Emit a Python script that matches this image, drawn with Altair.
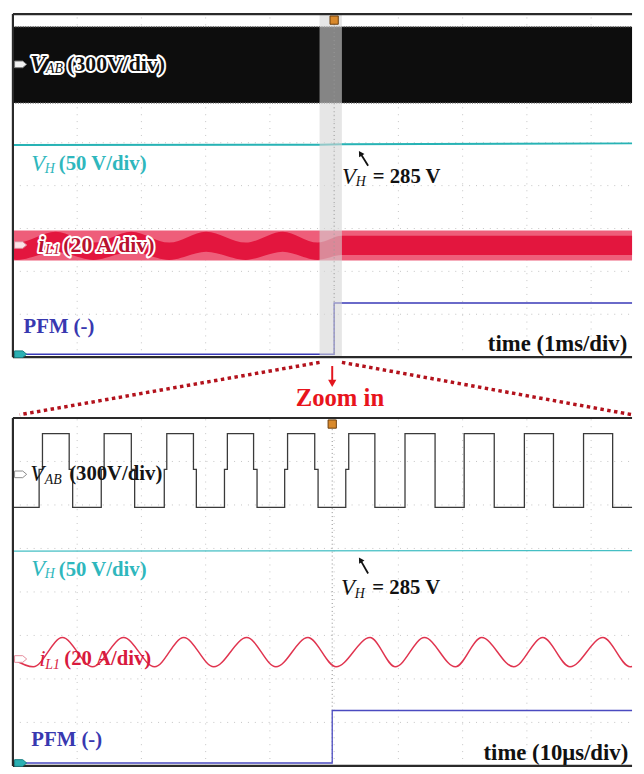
import altair as alt
import pandas as pd

# ================= DATA (oscilloscope divisions: 10 across, 8 high) =================
# ---- top screen (time 1 ms/div) ----
top_vab_band_t = [0.0, 9.637]
top_vab_band_lo = [5.927, 5.927]
top_vab_band_hi = [7.707, 7.707]

top_vh_t = [0.0, 4.77, 5.12, 9.637]
top_vh_v = [4.945, 4.955, 4.965, 4.985]

top_il_outer_t = [0.0, 9.637]
top_il_outer_lo = [2.254, 2.254]
top_il_outer_hi = [2.952, 2.952]

top_il_core_t = [0.0, 0.060, 0.665, 1.254, 1.843, 2.432, 3.006, 3.625, 4.199, 4.743, 5.12, 9.637]
top_il_core_hi = [2.69, 2.672, 2.925, 2.672, 2.925, 2.672, 2.925, 2.672, 2.925, 2.672, 2.830, 2.830]
top_il_core_lo = [2.285, 2.268, 2.460, 2.268, 2.460, 2.268, 2.460, 2.268, 2.460, 2.268, 2.380, 2.380]

top_pfm_t = [0.0, 5.0, 5.0, 9.637]
top_pfm_v = [0.068, 0.068, 1.262, 1.262]

zoom_window = [4.773, 5.121]
top_trigger = 5.0

# ---- bottom screen (time 10 us/div) ----
bot_vab_low, bot_vab_mid, bot_vab_high = 5.944, 6.816, 7.642
bot_vab_rise_a = [0.408, 1.375, 2.356, 3.293, 4.230, 5.181, 6.103, 7.024, 7.961, 8.882]
bot_vab_rise_b = [0.460, 1.420, 2.395, 3.338, 4.275, 5.227, 6.103, 7.024, 7.961, 8.882]
bot_vab_fall_a = [0.876, 1.843, 2.810, 3.746, 4.698, 5.634, 6.571, 7.492, 8.414, 9.335]
bot_vab_fall_b = [0.930, 1.895, 2.855, 3.800, 4.750, 5.634, 6.571, 7.492, 8.414, 9.335]

bot_vh_t = [0.0, 9.637]
bot_vh_v = [4.94, 4.95]

bot_il_t = [0.0, 0.317, 0.770, 1.239, 1.722, 2.205, 2.659, 3.127, 3.640, 4.094, 4.592,
            5.030, 5.559, 5.952, 6.405, 6.888, 7.296, 7.795, 8.248, 8.671, 9.184, 9.607, 9.637]
bot_il_v = [2.458, 2.279, 2.950, 2.279, 2.950, 2.279, 2.950, 2.279, 2.950, 2.279, 2.950,
            2.279, 2.950, 2.279, 2.950, 2.279, 2.950, 2.279, 2.950, 2.279, 2.950, 2.279, 2.285]

bot_pfm_t = [0.0, 4.97, 4.97, 9.637]
bot_pfm_v = [0.067, 0.067, 1.274, 1.274]
bot_trigger = 4.97

# ---- labels ----
top_lbl_text = ["V", "AB", "(300V/div)", "V", "H", "(50 V/div)", "V", "H", "= 285 V",
                "i", "L1", "(20 A/div)", "PFM (-)", "time (1ms/div)"]
top_lbl_x = [0.270, 0.515, 0.845, 0.287, 0.495, 0.715, 5.121, 5.335, 5.60,
             0.393, 0.505, 0.785, 0.166, 9.562]
top_lbl_y = [6.828, 6.716, 6.828, 4.507, 4.394, 4.507, 4.192, 4.079, 4.192,
             2.614, 2.501, 2.614, 0.699, 0.293]
top_lbl_series = ["vab", "vab", "vab", "vh", "vh", "vh", "note", "note", "note",
                  "il", "il", "il", "pfm", "time"]
top_lbl_kind = ["main", "sub", "unit", "main", "sub", "unit", "main", "sub", "unit",
                "main", "sub", "unit", "unit", "time"]

bot_lbl_text = ["V", "AB", "(300V/div)", "V", "H", "(50 V/div)", "V", "H", "= 285 V",
                "i", "L1", "(20 A/div)", "PFM (-)", "time (10\u03bcs/div)"]
bot_lbl_x = [0.270, 0.495, 0.875, 0.287, 0.495, 0.715, 5.106, 5.320, 5.595,
             0.408, 0.505, 0.800, 0.287, 9.577]
bot_lbl_y = [6.704, 6.570, 6.704, 4.514, 4.402, 4.514, 4.089, 3.955, 4.089,
             2.458, 2.324, 2.458, 0.603, 0.291]
bot_lbl_series = top_lbl_series
bot_lbl_kind = top_lbl_kind

top_arrow = [5.529, 4.462, 5.408, 4.755]   # tail x, tail y, head x, head y
bot_arrow = [5.529, 4.425, 5.408, 4.737]

top_tags_y = [6.828, 2.614, 0.068]
bot_tags_y = [6.704, 2.458, 0.067]

# ================= STYLE =================
X_DOMAIN = [-0.015, 9.637]
Y_DOMAIN = [-0.03, 8.03]
W, H_TOP, H_MID, H_BOT = 628, 350, 53, 355
FONT = "Liberation Serif"
COL = {"vab": "#151515", "vh": "#2fb7bd", "note": "#111111", "il": "#d81a3e",
       "pfm": "#3838b0", "time": "#111111"}
HALO_COL = {"vab": "#111111", "il": "#b8122f"}


def sx():
    return alt.Scale(domain=X_DOMAIN, nice=False, zero=False)


def sy(dom=None):
    return alt.Scale(domain=dom or Y_DOMAIN, nice=False, zero=False)


def X(f):
    return alt.X(f, scale=sx(), axis=None)


def Y(f, dom=None):
    return alt.Y(f, scale=sy(dom), axis=None)


def line(t, v, color, width=1.6, interp="linear"):
    df = pd.DataFrame({"t": t, "v": v, "i": range(len(t))})
    return alt.Chart(df).mark_line(color=color, strokeWidth=width, interpolate=interp).encode(
        x=X("t:Q"), y=Y("v:Q"), order="i:Q")


def band(t, lo, hi, color, interp="linear", opacity=1.0):
    df = pd.DataFrame({"t": t, "lo": lo, "hi": hi})
    return alt.Chart(df).mark_area(color=color, interpolate=interp, opacity=opacity).encode(
        x=X("t:Q"), y=Y("lo:Q"), y2="hi:Q")


def grid():
    gx = pd.DataFrame({"g": [1, 2, 3, 4, 5, 6, 7, 8, 9], "a": 0.0, "b": 8.0})
    gy = pd.DataFrame({"g": [1, 2, 3, 4, 5, 6, 7], "a": 0.0, "b": 9.637})
    v = alt.Chart(gx).mark_rule(color="#c4c4c4", strokeWidth=1, strokeDash=[1, 6]).encode(
        x=X("g:Q"), y=Y("a:Q"), y2="b:Q")
    h = alt.Chart(gy).mark_rule(color="#c4c4c4", strokeWidth=1, strokeDash=[1, 6]).encode(
        y=Y("g:Q"), x=X("a:Q"), x2="b:Q")
    return [v, h]


def frame():
    df = pd.DataFrame({"x0": [0.0, 0.0, 0.0], "x1": [0.0, 9.637, 9.637],
                       "y0": [0.0, 8.0, 0.0], "y1": [8.0, 8.0, 0.0]})
    return alt.Chart(df).mark_rule(color="#2a2a2a", strokeWidth=2.2).encode(
        x=X("x0:Q"), x2="x1:Q", y=Y("y0:Q"), y2="y1:Q")


def labels(texts, xs, ys, series, kinds, halo=False):
    df = pd.DataFrame({"text": texts, "x": xs, "y": ys, "s": series, "k": kinds})
    df["c"] = [COL[s] for s in df["s"]]
    layers = []
    styles = {
        "main": dict(fontSize=23, fontStyle="italic", fontWeight="normal", align="left"),
        "sub": dict(fontSize=14, fontStyle="italic", fontWeight="normal", align="left"),
        "unit": dict(fontSize=21, fontStyle="normal", fontWeight="bold", align="left"),
        "time": dict(fontSize=23, fontStyle="normal", fontWeight="bold", align="right"),
    }
    for k, st in styles.items():
        sub = df[df["k"] == k]
        if halo:
            hs = sub[sub["s"].isin(list(HALO_COL))].copy()
            ns = sub[~sub["s"].isin(list(HALO_COL))]
            if len(hs):
                hs["c"] = [HALO_COL[s] for s in hs["s"]]
                hst = dict(st)
                if k == "main":
                    hst["fontWeight"] = "bold"
                if k == "unit":
                    hst["fontSize"] = 22
                layers.append(alt.Chart(hs).mark_text(
                    font=FONT, baseline="middle", stroke="white", strokeWidth=4,
                    strokeJoin="round", fill="white", **hst).encode(
                    x=X("x:Q"), y=Y("y:Q"), text="text:N"))
                layers.append(alt.Chart(hs).mark_text(
                    font=FONT, baseline="middle", **hst).encode(
                    x=X("x:Q"), y=Y("y:Q"), text="text:N",
                    color=alt.Color("c:N", scale=None)))
            sub = ns
        if len(sub):
            layers.append(alt.Chart(sub).mark_text(
                font=FONT, baseline="middle", **st).encode(
                x=X("x:Q"), y=Y("y:Q"), text="text:N",
                color=alt.Color("c:N", scale=None)))
    return layers


def arrow(a):
    df = pd.DataFrame({"x0": [a[0]], "y0": [a[1]], "x1": [a[2]], "y1": [a[3]]})
    shaft = alt.Chart(df).mark_rule(color="#111", strokeWidth=1.8).encode(
        x=X("x0:Q"), y=Y("y0:Q"), x2="x1:Q", y2="y1:Q")
    head = alt.Chart(df).mark_point(shape="triangle-up", filled=True, color="#111",
                                    size=40, angle=328, opacity=1).encode(
        x=X("x1:Q"), y=Y("y1:Q"))
    return [shaft, head]


TAG_PATH = "M-1,-0.55 L0.35,-0.55 L1,0 L0.35,0.55 L-1,0.55 Z"


def tags(ys, fills, strokes):
    df = pd.DataFrame({"x": [0.12] * len(ys), "y": ys, "f": fills, "s": strokes})
    return alt.Chart(df).mark_point(shape=TAG_PATH, filled=True, size=150, strokeWidth=1,
                                    opacity=1).encode(
        x=X("x:Q"), y=Y("y:Q"), fill=alt.Fill("f:N", scale=None),
        stroke=alt.Stroke("s:N", scale=None))


def trig(x):
    df = pd.DataFrame({"x": [x], "y": [7.86]})
    return alt.Chart(df).mark_point(shape="square", filled=True, size=70, color="#d9892b",
                                    stroke="#6b3d0c", strokeWidth=1, opacity=1).encode(
        x=X("x:Q"), y=Y("y:Q"))


def vrule(x, color, dash):
    df = pd.DataFrame({"x": [x], "a": [0.0], "b": [8.0]})
    return alt.Chart(df).mark_rule(color=color, strokeWidth=1, strokeDash=dash).encode(
        x=X("x:Q"), y=Y("a:Q"), y2="b:Q")


# ================= TOP PANEL =================
zw = pd.DataFrame({"a": [zoom_window[0]], "b": [zoom_window[1]], "lo": [0.0], "hi": [8.0]})
gray = alt.Chart(zw).mark_rect(color="#d5d5d5", opacity=0.6).encode(
    x=X("a:Q"), x2="b:Q", y=Y("lo:Q"), y2="hi:Q")

edge = pd.DataFrame({"y": [top_vab_band_lo[0], top_vab_band_hi[0]], "a": [0.0, 0.0],
                     "b": [9.637, 9.637]})
vab_edges = alt.Chart(edge).mark_rule(color="#6a6a6a", strokeWidth=1.5, strokeDash=[1, 1.5]).encode(
    y=Y("y:Q"), x=X("a:Q"), x2="b:Q")

top_layers = (grid() + [
    band(top_vab_band_t, top_vab_band_lo, top_vab_band_hi, "#0d0d0d"),
    vab_edges,
    line(top_vh_t, top_vh_v, "#27b3b5", 2.0),
    band(top_il_outer_t, top_il_outer_lo, top_il_outer_hi, "#ee5e7a"),
    band(top_il_core_t, top_il_core_lo, top_il_core_hi, "#e3163e", interp="monotone"),
    line(top_pfm_t, top_pfm_v, "#3a3ab8", 1.5),
    gray,
    vrule(top_trigger, "#9a9a9a", [1, 3]),
] + labels(top_lbl_text, top_lbl_x, top_lbl_y, top_lbl_series, top_lbl_kind, halo=True)
    + arrow(top_arrow) + [
    frame(),
    tags(top_tags_y, ["#f2f2f2", "#fbe3e7", "#2bb0b3"], ["#777777", "#d98a9a", "#1a7f82"]),
    trig(top_trigger),
])
top = alt.layer(*top_layers).properties(width=W, height=H_TOP)

# ================= MIDDLE (zoom connectors) =================
conn = pd.DataFrame({"x0": [zoom_window[0], zoom_window[1]], "y0": [1.0, 1.0],
                     "x1": [0.106, 9.637], "y1": [0.0, 0.0]})
MID = [0, 1]
mid_lines = alt.Chart(conn).mark_rule(color="#b3121c", strokeWidth=3.5, strokeDash=[3.5, 3.5]).encode(
    x=X("x0:Q"), y=Y("y0:Q", MID), x2="x1:Q", y2="y1:Q")
arr = pd.DataFrame({"x": [bot_trigger], "a": [0.93], "b": [0.62], "tip": [0.60]})
mid_shaft = alt.Chart(arr).mark_rule(color="#e3161e", strokeWidth=2).encode(
    x=X("x:Q"), y=Y("a:Q", MID), y2="b:Q")
mid_head = alt.Chart(arr).mark_point(shape="triangle-down", filled=True, size=70,
                                     color="#e3161e", opacity=1).encode(
    x=X("x:Q"), y=Y("tip:Q", MID))
zt = pd.DataFrame({"x": [5.09], "y": [0.31], "text": ["Zoom in"]})
mid_text = alt.Chart(zt).mark_text(font=FONT, fontSize=25, fontWeight="bold", color="#e8141c",
                                   align="center", baseline="middle").encode(
    x=X("x:Q"), y=Y("y:Q", MID), text="text:N")
mid = alt.layer(mid_lines, mid_shaft, mid_head, mid_text).properties(width=W, height=H_MID)

# ================= BOTTOM PANEL =================
vt, vv = [0.0], [bot_vab_low]
for ra, rb, fa, fb in zip(bot_vab_rise_a, bot_vab_rise_b, bot_vab_fall_a, bot_vab_fall_b):
    vt += [ra, ra, rb, rb]
    vv += [bot_vab_low, bot_vab_mid, bot_vab_mid, bot_vab_high]
    vt += [fa, fa, fb, fb]
    vv += [bot_vab_high, bot_vab_mid, bot_vab_mid, bot_vab_low]
vt.append(9.637)
vv.append(bot_vab_low)

bot_layers = (grid() + [
    vrule(bot_trigger, "#8a8a8a", [1, 3]),
    line(vt, vv, "#3a3a3a", 1.3),
    line(bot_vh_t, bot_vh_v, "#45bfc4", 1.3),
    line(bot_il_t, bot_il_v, "#e0344f", 1.5, interp="monotone"),
    line(bot_pfm_t, bot_pfm_v, "#4a4ac0", 1.3),
] + labels(bot_lbl_text, bot_lbl_x, bot_lbl_y, bot_lbl_series, bot_lbl_kind)
    + arrow(bot_arrow) + [
    frame(),
    tags(bot_tags_y, ["#ffffff", "#ffffff", "#2bb0b3"], ["#8a8a8a", "#e58a9a", "#1a7f82"]),
    trig(bot_trigger),
])
bot = alt.layer(*bot_layers).properties(width=W, height=H_BOT)

chart = alt.vconcat(top, mid, bot, spacing=0).properties(
    padding=0, background="white").configure_view(strokeWidth=0)

chart.save("out.html", embed_options={"renderer": "svg", "actions": False})
